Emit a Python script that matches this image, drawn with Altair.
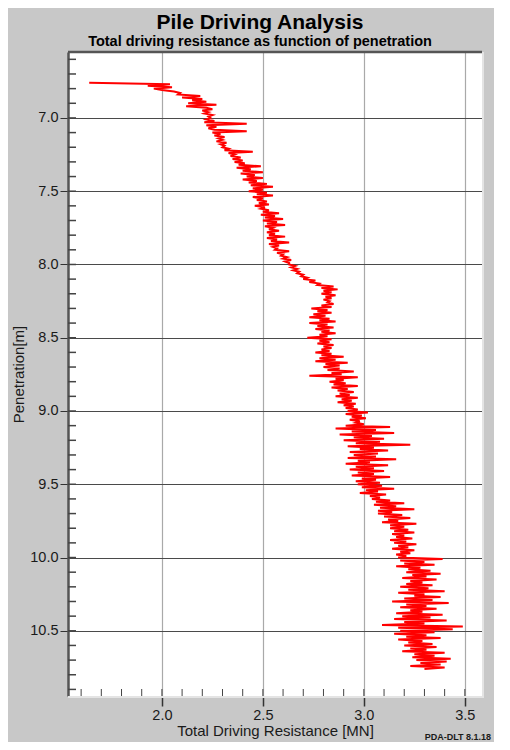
import altair as alt
import pandas as pd

# ---- data ----
depth_start = 6.76
depth_step = 0.01
resistance = [
    1.64, 2.04, 1.93, 2.05,
    1.96, 2.00, 2.06, 2.09, 2.08, 2.19, 2.10, 2.20, 2.15, 2.22,   # 6.80
    2.13, 2.27, 2.12, 2.22, 2.25, 2.20, 2.23, 2.21, 2.25, 2.23,   # 6.90
    2.24, 2.22, 2.26, 2.21, 2.42, 2.22, 2.27, 2.23, 2.26, 2.42,   # 7.00
    2.25, 2.29, 2.26, 2.31, 2.28, 2.30, 2.27, 2.32, 2.29, 2.31,   # 7.10
    2.30, 2.33, 2.31, 2.45, 2.33, 2.36, 2.34, 2.39, 2.35, 2.40,   # 7.20
    2.36, 2.41, 2.38, 2.49, 2.37, 2.44, 2.40, 2.50, 2.39, 2.46,   # 7.30
    2.42, 2.50, 2.40, 2.47, 2.43, 2.52, 2.44, 2.55, 2.45, 2.50,   # 7.40
    2.43, 2.52, 2.47, 2.55, 2.45, 2.50, 2.47, 2.52, 2.48, 2.53,   # 7.50
    2.46, 2.51, 2.49, 2.53, 2.50, 2.58, 2.49, 2.56, 2.51, 2.60,   # 7.60
    2.50, 2.57, 2.52, 2.61, 2.51, 2.55, 2.53, 2.58, 2.52, 2.56,   # 7.70
    2.53, 2.61, 2.52, 2.57, 2.54, 2.63, 2.53, 2.58, 2.55, 2.57,   # 7.80
    2.56, 2.63, 2.57, 2.60, 2.59, 2.62, 2.60, 2.64, 2.61, 2.63,   # 7.90
    2.63, 2.66, 2.64, 2.67, 2.65, 2.68, 2.67, 2.70, 2.69, 2.72,   # 8.00
    2.70, 2.76, 2.73, 2.78, 2.77, 2.85, 2.79, 2.87, 2.80, 2.84,   # 8.10
    2.79, 2.86, 2.81, 2.84, 2.80, 2.83, 2.82, 2.85, 2.79, 2.84,   # 8.20
    2.74, 2.82, 2.77, 2.84, 2.75, 2.81, 2.73, 2.83, 2.78, 2.86,   # 8.30
    2.73, 2.82, 2.77, 2.85, 2.76, 2.83, 2.79, 2.86, 2.78, 2.82,   # 8.40
    2.72, 2.84, 2.78, 2.83, 2.77, 2.85, 2.80, 2.84, 2.79, 2.83,   # 8.50
    2.76, 2.84, 2.79, 2.90, 2.78, 2.86, 2.76, 2.92, 2.81, 2.88,   # 8.60
    2.80, 2.88, 2.82, 2.95, 2.84, 2.89, 2.73, 2.97, 2.86, 2.90,   # 8.70
    2.83, 2.91, 2.85, 2.97, 2.84, 2.92, 2.87, 2.95, 2.88, 2.93,   # 8.80
    2.86, 2.97, 2.89, 2.94, 2.87, 2.96, 2.90, 2.95, 2.91, 2.97,   # 8.90
    2.92, 3.02, 2.91, 2.99, 2.94, 3.01, 2.93, 2.98, 2.96, 3.00,   # 9.00
    2.91, 3.13, 2.86, 3.06, 2.94, 3.15, 2.88, 3.04, 2.95, 3.10,   # 9.10
    2.90, 3.08, 2.96, 3.23, 2.92, 3.05, 2.98, 3.12, 2.93, 3.07,   # 9.20
    2.95, 3.06, 2.92, 3.16, 2.97, 3.03, 2.91, 3.12, 2.96, 3.05,   # 9.30
    2.93, 3.10, 2.97, 3.05, 2.94, 3.13, 2.99, 3.06, 2.96, 3.08,   # 9.40
    2.97, 3.09, 2.99, 3.15, 3.01, 3.07, 2.98, 3.11, 3.03, 3.08,   # 9.50
    3.04, 3.13, 3.06, 3.20, 3.05, 3.16, 3.08, 3.25, 3.07, 3.14,   # 9.60
    3.07, 3.19, 3.10, 3.23, 3.12, 3.17, 3.09, 3.26, 3.13, 3.20,   # 9.70
    3.13, 3.22, 3.15, 3.25, 3.14, 3.20, 3.16, 3.24, 3.13, 3.21,   # 9.80
    3.15, 3.26, 3.17, 3.22, 3.14, 3.25, 3.18, 3.23, 3.16, 3.21,   # 9.90
    3.17, 3.39, 3.18, 3.30, 3.20, 3.35, 3.16, 3.28, 3.22, 3.33,   # 10.00
    3.21, 3.38, 3.24, 3.31, 3.19, 3.36, 3.23, 3.29, 3.21, 3.34,   # 10.10
    3.18, 3.32, 3.22, 3.40, 3.17, 3.30, 3.25, 3.38, 3.20, 3.34,   # 10.20
    3.14, 3.42, 3.21, 3.31, 3.18, 3.36, 3.23, 3.29, 3.16, 3.39,   # 10.30
    3.19, 3.33, 3.15, 3.41, 3.20, 3.30, 3.09, 3.49, 3.17, 3.44,   # 10.40
    3.18, 3.35, 3.15, 3.31, 3.21, 3.38, 3.17, 3.29, 3.22, 3.34,   # 10.50
    3.20, 3.36, 3.23, 3.31, 3.19, 3.40, 3.25, 3.35, 3.24, 3.43,   # 10.60
    3.26, 3.41, 3.28, 3.38, 3.23, 3.40, 3.30,                     # 10.70
]
depth = [round(depth_start + i * depth_step, 2) for i in range(len(resistance))]

x_major = [2.0, 2.5, 3.0, 3.5]
x_minor = [1.6, 1.7, 1.8, 1.9, 2.0, 2.1, 2.2, 2.3, 2.4, 2.5, 2.6, 2.7, 2.8,
           2.9, 3.0, 3.1, 3.2, 3.3, 3.4, 3.5]
y_major = [7.0, 7.5, 8.0, 8.5, 9.0, 9.5, 10.0, 10.5]
y_minor = [6.6, 6.7, 6.8, 6.9, 7.0, 7.1, 7.2, 7.3, 7.4, 7.5, 7.6, 7.7, 7.8,
           7.9, 8.0, 8.1, 8.2, 8.3, 8.4, 8.5, 8.6, 8.7, 8.8, 8.9, 9.0, 9.1,
           9.2, 9.3, 9.4, 9.5, 9.6, 9.7, 9.8, 9.9, 10.0, 10.1, 10.2, 10.3,
           10.4, 10.5, 10.6, 10.7, 10.8, 10.9]

X_DOMAIN = [1.535, 3.585]
Y_DOMAIN = [6.55, 10.945]
W, H = 414, 644
FONT = "Liberation Sans"

df = pd.DataFrame({"depth": depth, "res": resistance, "i": list(range(len(depth)))})
xscale = alt.Scale(domain=X_DOMAIN, nice=False, zero=False)
yscale = alt.Scale(domain=Y_DOMAIN, nice=False, zero=False, reverse=True)

xaxis = alt.Axis(values=x_major, format=".1f", title="Total Driving Resistance [MN]",
                 tickSize=10, tickColor="#333333", tickWidth=1.5, labelPadding=2,
                 labelFontSize=14.5, labelColor="#1a1a1a", labelFont=FONT,
                 titleFont=FONT, titleFontSize=15, titleFontWeight="normal",
                 titleColor="#1a1a1a", titlePadding=2, domain=False,
                 grid=True, gridColor="#555555", gridDash=[1, 1], gridWidth=1.2)
yaxis = alt.Axis(values=y_major, format=".1f", title="Penetration[m]",
                 tickSize=8, tickColor="#333333", tickWidth=1, labelPadding=2,
                 labelFontSize=14.5, labelColor="#1a1a1a", labelFont=FONT,
                 titleFont=FONT, titleFontSize=15, titleFontWeight="normal",
                 titleColor="#1a1a1a", titlePadding=3, domain=True,
                 domainColor="#555555", domainWidth=2.5,
                 grid=True, gridColor="#4a4a4a", gridWidth=1)

line = alt.Chart(df).mark_line(color="#ff0000", strokeWidth=2, clip=True).encode(
    x=alt.X("res:Q", scale=xscale, axis=xaxis),
    y=alt.Y("depth:Q", scale=yscale, axis=yaxis),
    order=alt.Order("i:Q"),
)

ymin = alt.Chart(pd.DataFrame({"depth": y_minor})).mark_rule(
    color="#444444", strokeWidth=1.5).encode(
    y=alt.Y("depth:Q", scale=yscale, axis=yaxis), x=alt.value(0), x2=alt.value(8))
xmin = alt.Chart(pd.DataFrame({"res": x_minor})).mark_rule(
    color="#444444", strokeWidth=1).encode(
    x=alt.X("res:Q", scale=xscale, axis=xaxis), y=alt.value(H), y2=alt.value(H - 7))

one = pd.DataFrame({"a": [0]})
top = alt.Chart(one).mark_rule(color="#555555", strokeWidth=2.5).encode(
    y=alt.value(0), x=alt.value(0), x2=alt.value(W))
right = alt.Chart(one).mark_rule(color="#e4e4e4", strokeWidth=2).encode(
    x=alt.value(W + 1), y=alt.value(0), y2=alt.value(H + 1))
bottom = alt.Chart(one).mark_rule(color="#e4e4e4", strokeWidth=2).encode(
    y=alt.value(H + 1), x=alt.value(0), x2=alt.value(W + 2))

stamp = alt.Chart(pd.DataFrame({"t": ["PDA-DLT 8.1.18"]})).mark_text(
    align="right", baseline="alphabetic", font=FONT, fontSize=9, fontWeight="bold",
    color="#1a1a1a").encode(text="t:N", x=alt.value(423), y=alt.value(688))

chart = alt.layer(line, ymin, xmin, top, right, bottom, stamp).properties(
    width=W, height=H,
    background="#c8c8c8",
    padding={"left": 60, "top": 44, "right": 12, "bottom": 46},
    autosize=alt.AutoSizeParams(type="none"),
    title=alt.TitleParams(
        text="Pile Driving Analysis",
        subtitle="Total driving resistance as function of penetration",
        font=FONT, subtitleFont=FONT, fontSize=21, subtitleFontSize=14.5,
        fontWeight="bold", subtitleFontWeight="bold", color="#000000",
        subtitleColor="#000000", anchor="middle", dx=-15, offset=2,
        subtitlePadding=2),
).configure_view(fill="white", stroke=None)

chart.save("out.html", embed_options={"renderer": "svg", "actions": False})
